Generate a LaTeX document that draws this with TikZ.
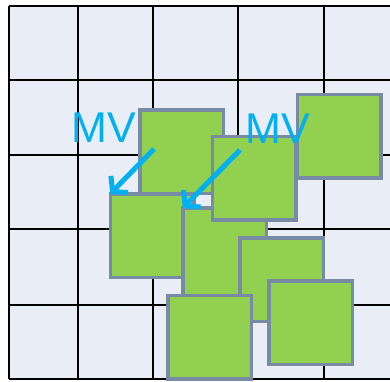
\documentclass[tikz,border=0pt]{standalone}
\usepackage{fontspec}
\setmainfont{Liberation Sans}
\usetikzlibrary{arrows.meta}
\definecolor{leaf}{HTML}{92D050}
\definecolor{rim}{HTML}{778CA4}
\definecolor{paper}{HTML}{E9EEF6}
\definecolor{sky}{HTML}{00B0F0}

\begin{document}
\begin{tikzpicture}[x=1pt,y=-1pt,
    blk/.style={draw=rim,fill=leaf,line width=3.5pt,inner sep=0pt,outer sep=0pt,
      minimum size=83.5pt},
    mv/.style={text=sky,inner sep=0pt,font=\fontsize{43}{43}\selectfont},
    mvarrow/.style={draw=sky,line width=5pt,
      -{Straight Barb[length=10pt,width=24pt]}}]
    \useasboundingbox (0,0) rectangle (390,381);
    \fill[white] (0,0) rectangle (390,381);
    \fill[paper] (9,6) rectangle (395,379);
    \foreach \gx in {9,78,153,238,324}{
      \draw[line width=2.5pt] (\gx,6) -- (\gx,379);}
    \foreach \gy in {6,80,155,229,305,379}{
      \draw[line width=2.5pt] (9,\gy) -- (395,\gy);}

    % blocks, back to front
    \node[blk] (blkA) at (181.5,151.5) {};
    \node[blk] (blkC) at (152,235.5) {};
    \node[blk,minimum height=88pt] (blkD) at (224.5,252) {};
    \node[blk] (blkB) at (254,178) {};
    \node[blk] (blkF) at (281.5,279.5) {};
    \node[blk] (blkG) at (310.5,322.5) {};
    \node[blk] (blkH) at (209.5,337) {};
    \node[blk] (blkE) at (339,136) {};

    % motion vectors
    \node[mv] (mvA) at (104,128) {MV};
    \node[mv] (mvB) at (278,129) {MV};
    \coordinate (tailA) at (154,149);
    \coordinate (tailB) at (240,150);
    \draw[mvarrow] (tailA) -- (blkC.north west);
    \draw[mvarrow] (tailB) -- (blkD.north west);
  \end{tikzpicture}
\end{document}
